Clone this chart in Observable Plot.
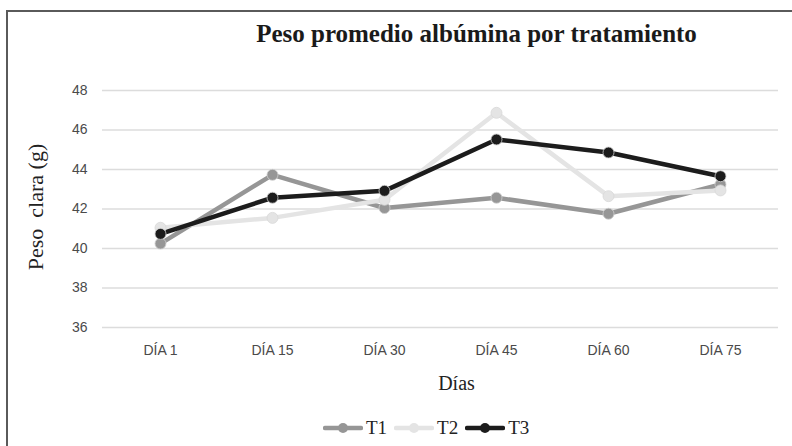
<!DOCTYPE html>
<html>
<head>
<meta charset="utf-8">
<script src="https://cdn.jsdelivr.net/npm/d3@7"></script>
<script src="https://cdn.jsdelivr.net/npm/@observablehq/plot@0.6"></script>
<style>
  html, body { margin: 0; padding: 0; background: #fff; }
  #wrap { position: relative; width: 792px; height: 446px; overflow: hidden; background: #fff; }
  #frame { position: absolute; left: 6px; top: 10px; width: 900px; height: 600px;
           border-left: 2px solid #5a5a5a; border-top: 2px solid #5a5a5a; pointer-events: none; }
  #chart { position: absolute; left: 0; top: 0; }
  #legend { position: absolute; top: 417px; left: 323px; display: flex; align-items: center;
            font-family: "Liberation Serif", serif; font-size: 19px; color: #222; }
  #legend .item { display: flex; align-items: center; margin-right: 7px; }
  #legend svg { margin-right: 3px; }
</style>
</head>
<body>
<div id="wrap">
  <div id="chart"></div>
  <div id="frame"></div>
  <div id="legend"></div>
</div>
<script>
const dias = ["DÍA 1", "DÍA 15", "DÍA 30", "DÍA 45", "DÍA 60", "DÍA 75"];
const t1 = [40.25, 43.73, 42.05, 42.57, 41.76, 43.24];
const t2 = [41.05, 41.55, 42.47, 46.87, 42.65, 42.94];
const t3 = [40.74, 42.57, 42.92, 45.52, 44.86, 43.66];
const seriesNames = ["T1", "T2", "T3"];
const seriesColors = ["#969696", "#e4e4e4", "#1c1c1c"];
const yTicks = [36, 38, 40, 42, 44, 46, 48];
const titleText = "Peso promedio albúmina por tratamiento";
const yLabel = "Peso  clara (g)";
const xLabel = "Días";

const values = [t1, t2, t3];
const data = [];
seriesNames.forEach((s, i) => dias.forEach((d, j) => data.push({serie: s, dia: d, valor: values[i][j]})));

const serif = "'Liberation Serif', 'Times New Roman', serif";

const chart = Plot.plot({
  width: 792,
  height: 446,
  marginLeft: 102,
  marginRight: 14,
  marginTop: 90,
  marginBottom: 119,
  style: {fontFamily: "'Liberation Sans', Arial, sans-serif", fontSize: "14px", color: "#4a4a4a", background: "transparent"},
  x: {type: "point", domain: dias, padding: 0.5},
  y: {domain: [36, 48]},
  color: {domain: seriesNames, range: seriesColors},
  marks: [
    Plot.ruleY(yTicks, {stroke: "#dcdcdc", strokeWidth: 1.5}),
    Plot.axisY({ticks: yTicks, tickSize: 0, tickPadding: 15, label: null, fill: "#4a4a4a"}),
    Plot.axisX({tickSize: 0, tickPadding: 18, label: null, fill: "#4a4a4a"}),
    Plot.line(data, {x: "dia", y: "valor", z: "serie", stroke: "serie", strokeWidth: 4.5, strokeLinejoin: "round", strokeLinecap: "round"}),
    ...seriesNames.map((s, i) =>
      Plot.dot(data.filter(d => d.serie === s), {x: "dia", y: "valor", r: 5.5, fill: seriesColors[i], stroke: i === 1 ? "#d8d8d8" : "#cfcfcf", strokeWidth: 0.8})
    ),
    Plot.text([yLabel], {frameAnchor: "left", dx: -67, dy: -2, rotate: -90, textAnchor: "middle", lineAnchor: "middle", fontSize: 22, fontFamily: serif, fill: "#222"}),
    Plot.text([xLabel], {frameAnchor: "bottom", dx: 16, dy: 56, textAnchor: "middle", lineAnchor: "middle", fontSize: 20, fontFamily: serif, fill: "#222"}),
    Plot.text([titleText], {frameAnchor: "top", dx: 36, dy: -57, textAnchor: "middle", lineAnchor: "middle", fontSize: 25, fontWeight: "bold", fontFamily: serif, fill: "#1a1a1a"})
  ]
});
document.getElementById("chart").appendChild(chart);

const legend = document.getElementById("legend");
seriesNames.forEach((s, i) => {
  const item = document.createElement("div");
  item.className = "item";
  item.innerHTML = `<svg width="40" height="12"><line x1="2" y1="6" x2="38" y2="6" stroke="${seriesColors[i]}" stroke-width="4.5" stroke-linecap="round"/><circle cx="20" cy="6" r="5" fill="${seriesColors[i]}"/></svg><span>${s}</span>`;
  legend.appendChild(item);
});
</script>
</body>
</html>
